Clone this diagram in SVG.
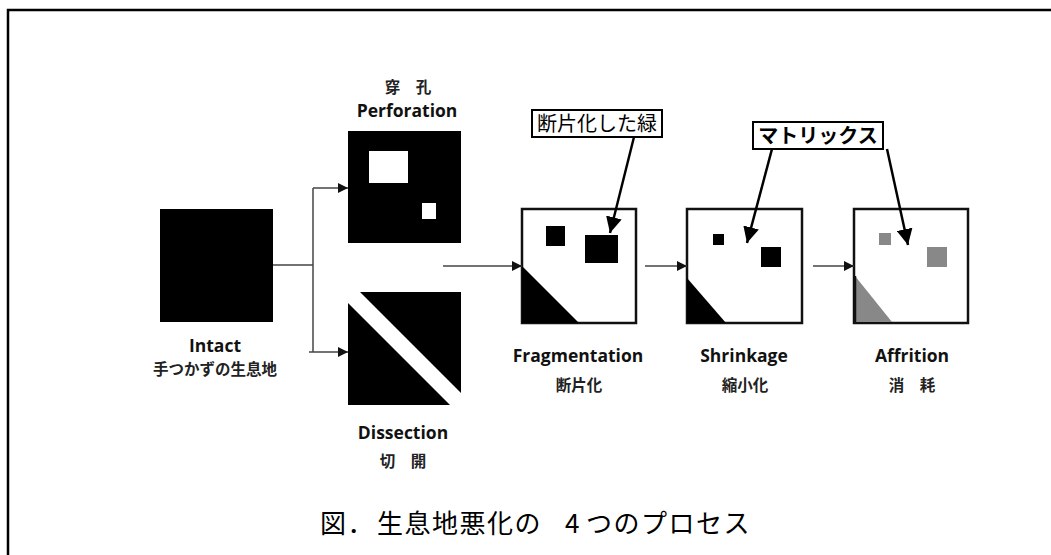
<svg xmlns="http://www.w3.org/2000/svg" width="1051" height="555" viewBox="0 0 1051 555">
<defs>
<style>
.lbl{font-family:"Open Sans","Noto Sans CJK JP",sans-serif;font-weight:bold;font-size:17.5px;fill:#111;text-anchor:middle}
.jp{font-family:"Noto Sans CJK JP",sans-serif;font-weight:bold;font-size:15.5px;fill:#222;text-anchor:middle}
.conn{stroke:#444;stroke-width:1.5;fill:none}
.ptr{stroke:#000;stroke-width:2.5;fill:none}
.box{fill:#fff;stroke:#111;stroke-width:2.5}
.call{fill:#fff;stroke:#000;stroke-width:2}
.ctext{font-family:"Noto Sans CJK JP",sans-serif;font-size:20px;fill:#000;text-anchor:middle}
</style>
<marker id="ah" viewBox="0 0 10 10" refX="10" refY="5" markerWidth="10" markerHeight="10" markerUnits="userSpaceOnUse" orient="auto"><path d="M0,0L10,5L0,10z" fill="#111"/></marker>
<marker id="ap" viewBox="0 0 10 10" refX="10" refY="5" markerWidth="16" markerHeight="16" markerUnits="userSpaceOnUse" orient="auto"><path d="M0,0L10,5L0,10z" fill="#000"/></marker>
</defs>
<rect width="1051" height="555" fill="#fff"/>
<path d="M8,555V10H1051" fill="none" stroke="#000" stroke-width="2.5"/>

<g id="intact">
<rect x="160" y="209" width="113" height="113" fill="#000"/>
<text class="lbl" x="215" y="352">Intact</text>
<text class="jp" x="215" y="375">手つかずの生息地</text>
</g>

<g id="perforation">
<text class="jp" x="408" y="93">穿　孔</text>
<text class="lbl" x="407" y="117">Perforation</text>
<rect x="348" y="131" width="113" height="112" fill="#000"/>
<rect x="369" y="151" width="39" height="32" fill="#fff"/>
<rect x="422" y="203" width="14" height="16" fill="#fff"/>
</g>

<g id="dissection">
<polygon points="360,292 461,292 461,393" fill="#000"/>
<polygon points="348,303 348,405 450,405" fill="#000"/>
<text class="lbl" x="403" y="439">Dissection</text>
<text class="jp" x="403" y="467">切　開</text>
</g>

<g id="fragmentation">
<rect class="box" x="522" y="209" width="114" height="114"/>
<rect x="546" y="226" width="19" height="20" fill="#000"/>
<rect x="585" y="235" width="33" height="28" fill="#000"/>
<polygon points="522,266 522,323 579,323" fill="#000"/>
<text class="lbl" x="578" y="362">Fragmentation</text>
<text class="jp" x="579" y="391">断片化</text>
</g>

<g id="shrinkage">
<rect class="box" x="687" y="209" width="115" height="114"/>
<rect x="713" y="234" width="11" height="11" fill="#000"/>
<rect x="761" y="247" width="20" height="20" fill="#000"/>
<polygon points="687,278 687,323 726,323" fill="#000"/>
<text class="lbl" x="744" y="362">Shrinkage</text>
<text class="jp" x="745" y="391">縮小化</text>
</g>

<g id="affrition">
<rect class="box" x="854" y="209" width="114" height="114"/>
<rect x="879" y="233" width="12" height="12" fill="#888"/>
<rect x="927" y="247" width="20" height="20" fill="#888"/>
<polygon points="855,276 855,322 892,322" fill="#888"/>
<path d="M855,276V323" stroke="#111" stroke-width="2.5"/>
<text class="lbl" x="912" y="362">Affrition</text>
<text class="jp" x="912" y="391">消　耗</text>
</g>

<g id="callout-fragment">
<rect class="call" x="532" y="110" width="130" height="27"/>
<text class="ctext" x="597" y="131">断片化した緑</text>
</g>

<g id="callout-matrix">
<rect class="call" x="753" y="122" width="130" height="27"/>
<text class="ctext" x="818" y="143" font-weight="bold">マトリックス</text>
</g>

<g id="connectors">
<path class="conn" d="M273,265H313"/>
<path class="conn" d="M313,188V352"/>
<path class="conn" d="M313,188H348" marker-end="url(#ah)"/>
<path class="conn" d="M309,352H348" marker-end="url(#ah)"/>
<path class="conn" d="M443,266H522" marker-end="url(#ah)"/>
<path class="conn" d="M645,266H687" marker-end="url(#ah)"/>
<path class="conn" d="M813,266H854" marker-end="url(#ah)"/>
<path class="ptr" d="M634,137L610,233" marker-end="url(#ap)"/>
<path class="ptr" d="M772,149L747,243" marker-end="url(#ap)"/>
<path class="ptr" d="M887,149L908,245" marker-end="url(#ap)"/>
</g>

<g id="caption">
<text y="533" font-family="'Noto Sans CJK JP',sans-serif" font-size="26" letter-spacing="1.5" fill="#000"><tspan x="320">図．</tspan><tspan x="377">生息地悪化の</tspan><tspan x="565">4</tspan><tspan x="586">つのプロセス</tspan></text>
</g>
</svg>
